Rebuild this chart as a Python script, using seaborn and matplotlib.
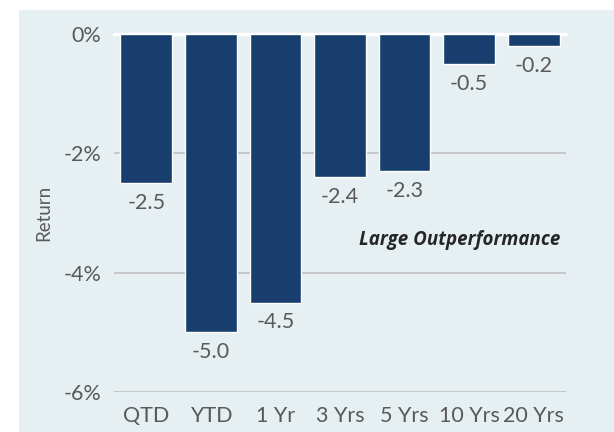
import matplotlib
matplotlib.use('Agg')
import matplotlib.pyplot as plt
import seaborn as sns
from matplotlib.patches import Rectangle

# Data
periods = ['QTD', 'YTD', '1 Yr', '3 Yrs', '5 Yrs', '10 Yrs', '20 Yrs']
returns = [-2.5, -5.0, -4.5, -2.4, -2.3, -0.5, -0.2]
y_ticks = [0, -2, -4, -6]
y_tick_labels = ['0%', '-2%', '-4%', '-6%']
note = 'Large Outperformance'

bar_color = '#173e6d'
bg_color = '#e6eff2'
text_color = '#595959'

sns.set_style('white')
plt.rcParams['font.family'] = ['Lato', 'DejaVu Sans']

fig = plt.figure(figsize=(6.14, 4.32), dpi=100)
fig.patch.set_facecolor('white')
# light panel behind the chart
fig.patches.append(Rectangle((19 / 614, 0), 1, 422 / 432, transform=fig.transFigure,
                             facecolor=bg_color, edgecolor='none', zorder=-10))

ax = fig.add_axes([114 / 614, 40 / 432, 452 / 614, 358 / 432])
ax.set_facecolor('none')

sns.barplot(x=periods, y=returns, color=bar_color, saturation=1, width=0.8,
            ax=ax, zorder=3)

ax.set_xlim(-0.5, len(periods) - 0.5)
ax.set_ylim(-6, 0)
ax.set_yticks(y_ticks)
ax.set_yticklabels(y_tick_labels)

# gridlines and white zero line
for t in y_ticks[1:]:
    ax.axhline(t, color='#bdbdbd', lw=1.1, zorder=1)
ax.axhline(0, color='white', lw=2.5, zorder=2, clip_on=False)

for s in ax.spines.values():
    s.set_visible(False)
ax.tick_params(axis='both', length=0, labelsize=15.5, colors=text_color)
ax.tick_params(axis='y', pad=9)
ax.tick_params(axis='x', pad=10)

ax.bar_label(ax.containers[0], fmt='%.1f', padding=7, fontsize=15.5, color=text_color)

ax.set_xlabel('')
ax.set_ylabel('Return', fontsize=13.5, color=text_color, labelpad=8)

ax.text(0.987, 0.425, note, transform=ax.transAxes, ha='right', va='center',
        fontsize=13.5, fontweight='bold', fontstyle='italic', color='#262626',
        family=['Open Sans', 'DejaVu Sans'])

plt.savefig('out.png', dpi=100)
